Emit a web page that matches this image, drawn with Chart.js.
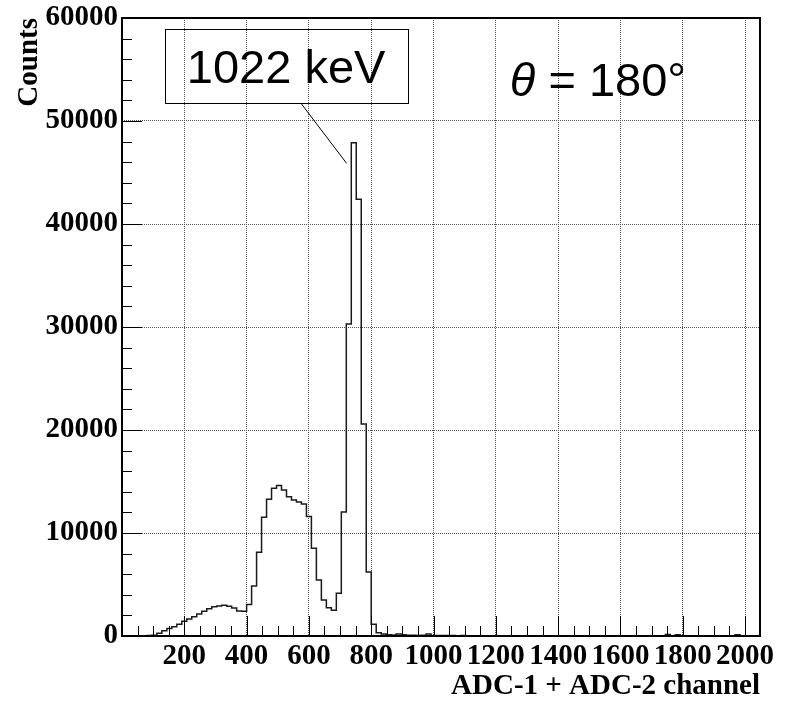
<!DOCTYPE html>
<html>
<head>
<meta charset="utf-8">
<script src="https://cdn.jsdelivr.net/npm/chart.js@4/dist/chart.umd.min.js"></script>
<style>
  body { margin: 0; background: #fff; }
  canvas { display: block; }
</style>
</head>
<body>
<canvas id="spectrum" width="786" height="701"></canvas>
<script>
// histogram: 128 bins of 16 channels, counts
var binWidth = 16;
var counts = [
  0, 0, 0, 0, 0, 60, 70, 260, 520, 740, 900, 1130, 1420, 1650, 1880, 2140,
  2400, 2650, 2850, 2910, 2980, 2880, 2720, 2420, 2400, 3050, 4850, 8130, 11520, 13270, 14340, 14600,
  14180, 13530, 13200, 13010, 12820, 11590, 8510, 5440, 3500, 2750, 2500, 4140, 12040, 30300, 47900, 42400,
  20580, 6210, 1150, 320, 200, 120, 90, 190, 120, 80, 70, 60, 70, 190, 60, 50,
  40, 50, 40, 30, 40, 30, 30, 20, 30, 20, 30, 20, 20, 30, 20, 20,
  20, 10, 20, 20, 10, 20, 10, 20, 10, 10, 20, 10, 10, 20, 10, 10,
  10, 20, 10, 10, 10, 10, 20, 10, 10, 10, 20, 10, 10, 140, 20, 130,
  10, 10, 10, 10, 10, 10, 10, 10, 10, 10, 10, 120, 10, 10, 10, 10
];
var xTicks = [200, 400, 600, 800, 1000, 1200, 1400, 1600, 1800, 2000];
var yTicks = [0, 10000, 20000, 30000, 40000, 50000, 60000];
var xTitle = 'ADC-1 + ADC-2 channel';
var yTitle = 'Counts';
var peakLabel = '1022 keV';
var angleLabel = ['θ', ' = 180°'];

// step outline: left edge of every bin, plus the right edge of the last one
var points = counts.map(function (c, i) { return { x: i * binWidth, y: c }; });
points.push({ x: counts.length * binWidth, y: counts[counts.length - 1] });

var axisFont = { family: 'Liberation Serif', size: 29, weight: 'bold', lineHeight: 1.2 };

// frame and ROOT-style inward ticks
var frameTicks = {
  id: 'frameTicks',
  afterDatasetsDraw: function (chart) {
    var ctx = chart.ctx, a = chart.chartArea, x = chart.scales.x, y = chart.scales.y;
    ctx.save();
    ctx.strokeStyle = '#000';
    ctx.lineWidth = 1;
    ctx.beginPath();
    for (var v = 50; v < x.max; v += 50) {
      var px = Math.round(x.getPixelForValue(v)) + 0.5;
      ctx.moveTo(px, a.bottom);
      ctx.lineTo(px, a.bottom - (v % 200 === 0 ? 20 : 10));
    }
    for (var w = 2000; w < y.max; w += 2000) {
      var py = Math.round(y.getPixelForValue(w)) + 0.5;
      ctx.moveTo(a.left, py);
      ctx.lineTo(a.left + (w % 10000 === 0 ? 20 : 10), py);
    }
    ctx.stroke();
    ctx.lineWidth = 2;
    ctx.strokeRect(Math.round(a.left), Math.round(a.top), Math.round(a.right - a.left), Math.round(a.bottom - a.top));
    ctx.restore();
  }
};

// text box with pointer and the angle label, placed in data coordinates
var labels = {
  id: 'labels',
  afterDraw: function (chart) {
    var ctx = chart.ctx, x = chart.scales.x, y = chart.scales.y;
    ctx.save();
    ctx.strokeStyle = '#000';
    ctx.fillStyle = '#000';
    ctx.lineWidth = 1;
    var bx0 = Math.round(x.getPixelForValue(138)) + 0.5, bx1 = Math.round(x.getPixelForValue(918)) + 0.5;
    var by0 = Math.round(y.getPixelForValue(58930)) + 0.5, by1 = Math.round(y.getPixelForValue(51750)) + 0.5;
    ctx.strokeRect(bx0, by0, bx1 - bx0, by1 - by0);
    ctx.beginPath();
    ctx.moveTo(x.getPixelForValue(575), by1);
    ctx.lineTo(x.getPixelForValue(721), y.getPixelForValue(45890));
    ctx.stroke();

    ctx.textBaseline = 'alphabetic';
    ctx.textAlign = 'left';
    ctx.font = '47px "Liberation Sans"';
    ctx.fillText(peakLabel, x.getPixelForValue(208), y.getPixelForValue(53660));

    var tx = x.getPixelForValue(1245), ty = y.getPixelForValue(52430);
    ctx.font = 'italic 47px "Liberation Sans"';
    ctx.fillText(angleLabel[0], tx, ty);
    tx += ctx.measureText(angleLabel[0]).width;
    ctx.font = '47px "Liberation Sans"';
    ctx.fillText(angleLabel[1], tx, ty);
    ctx.restore();
  }
};

var ctx = document.getElementById('spectrum').getContext('2d');
var myChart = new Chart(ctx, {
  type: 'line',
  data: {
    datasets: [{
      data: points,
      stepped: true,
      borderColor: '#1a1a1a',
      borderWidth: 1.5,
      pointRadius: 0,
      fill: false
    }]
  },
  options: {
    responsive: false,
    animation: false,
    events: [],
    layout: { padding: { top: 18, right: 26, left: 0, bottom: 0 } },
    plugins: { legend: { display: false }, tooltip: { enabled: false } },
    scales: {
      x: {
        type: 'linear',
        min: 0,
        max: counts.length * binWidth,
        afterBuildTicks: function (s) { s.ticks = xTicks.map(function (v) { return { value: v }; }); },
        afterFit: function (s) { s.height = 65; s.paddingLeft = 0; s.paddingRight = 0; },
        ticks: { color: '#000', font: axisFont, padding: 3, maxRotation: 0, autoSkip: false,
          callback: function (v) { return String(v); } },
        grid: { color: '#555', lineWidth: 1, drawTicks: false },
        border: { display: false, dash: [1, 1] },
        title: { display: true, text: xTitle, align: 'end', color: '#000', font: axisFont,
          padding: { top: 0, bottom: -3 } }
      },
      y: {
        type: 'linear',
        min: 0,
        max: 60000,
        afterBuildTicks: function (s) { s.ticks = yTicks.map(function (v) { return { value: v }; }); },
        afterFit: function (s) { s.width = 122; s.paddingTop = 0; s.paddingBottom = 0; },
        ticks: { color: '#000', font: axisFont, padding: 4, autoSkip: false,
          callback: function (v) { return String(v); } },
        grid: { color: '#555', lineWidth: 1, drawTicks: false },
        border: { display: false, dash: [1, 1] },
        title: { display: true, text: yTitle, align: 'end', color: '#000', font: axisFont,
          padding: { top: 12, bottom: 0 } }
      }
    }
  },
  plugins: [frameTicks, labels]
});
</script>
</body>
</html>
